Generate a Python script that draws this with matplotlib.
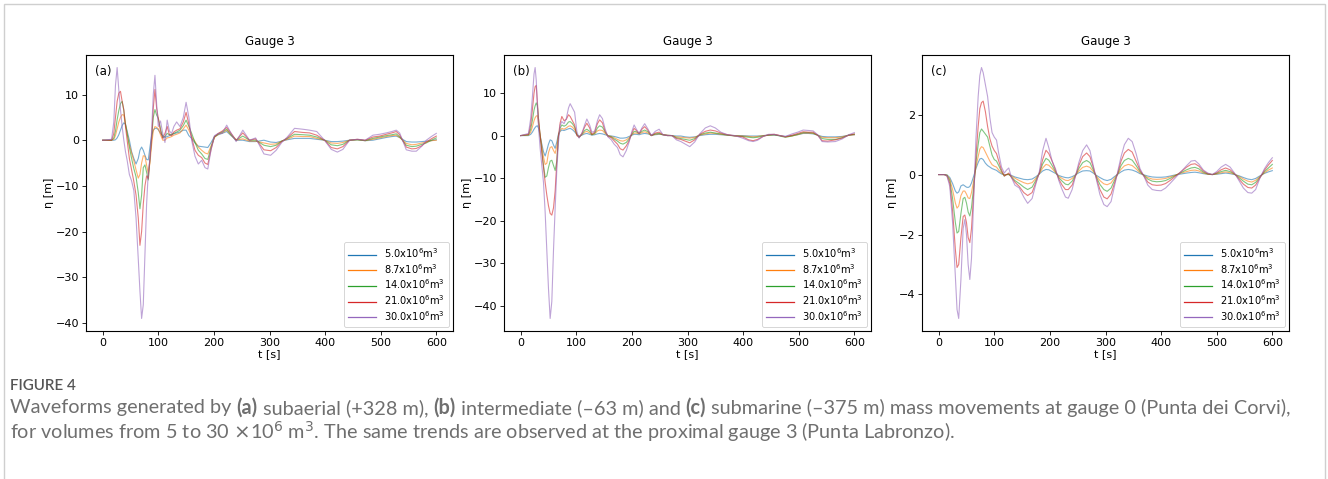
import numpy as np
import matplotlib
matplotlib.use('Agg')
import matplotlib.pyplot as plt
from matplotlib.patches import Rectangle

# volumes (x10^6 m3)
volumes = ['5.0', '8.7', '14.0', '21.0', '30.0']
cores = ['#1f77b4', '#ff7f0e', '#2ca02c', '#d62728', '#9467bd']

# ---------------- painel (a) subaerial ----------------
t_a = [0, 16, 20, 23, 26, 29, 32, 35, 38, 41,
       44, 48, 52, 56, 60, 64, 67, 70, 73, 76,
       79, 82, 85, 88, 91, 94, 97, 100, 104, 108,
       112, 116, 120, 124, 128, 133, 139, 145, 150, 155,
       160, 166, 172, 178, 184, 189, 195, 201, 208, 215,
       223, 231, 240, 252, 264, 275, 290, 302, 312, 322,
       332, 345, 360, 372, 385, 399, 411, 422, 432, 444,
       458, 472, 486, 498, 510, 520, 528, 534, 546, 556,
       564, 574, 582, 591, 600]

a_5 = [0, 0, 0, 0.1, 0.5, 1.2, 2.2, 3.2, 3.8, 3.5,
       2, 0, -2.5, -4, -5.2, -4, -2.2, -1.5, -2.2, -3.3,
       -4.2, -4.3, -1.5, 1, 2.2, 2.6, 2.6, 2.3, 1.5, 1,
       0.6, 0.8, 1, 1.2, 1.4, 1.6, 1.8, 2.2, 2.2, 1,
       0.4, -0.6, -1.3, -1.4, -1.5, -1.6, -0.5, 0.8, 1.2, 1.5,
       1.9, 1, 0, 0, -0.3, -0.3, 0, -0.4, -0.5, -0.2,
       0.1, 0.4, 0.4, 0.4, 0.2, 0, -0.3, -0.3, -0.2, 0,
       0.1, -0.1, 0, 0.3, 0.6, 0.8, 0.9, 0.6, -0.3, -0.4,
       -0.4, -0.3, -0.2, -0.1, 0.1]
a_87 = [0, 0, 0.2, 1, 2.5, 4, 5, 5.6, 5.5, 3.5,
        1.5, -1, -2.8, -4.5, -6.5, -8.3, -7.5, -5, -3.4, -3.5,
        -5.5, -7.3, -5, -1, 2, 3, 2.8, 2.5, 1.2, 0,
        0, 0.5, 0.6, 0.8, 1.1, 1.3, 1.6, 2.5, 3.3, 2.2,
        0.8, -0.3, -1.5, -2.2, -2.8, -3, -1.2, 0.6, 1.3, 1.6,
        2.2, 1.1, 0, 0.3, -0.2, -0.2, -0.6, -0.9, -0.8, -0.2,
        0.2, 0.9, 0.8, 0.8, 0.4, 0, -0.6, -0.7, -0.5, 0,
        0.1, -0.1, 0.2, 0.5, 0.8, 1, 1.1, 0.6, -0.7, -1,
        -0.9, -0.6, -0.4, -0.1, 0]
a_14 = [0, 0, 0.5, 2, 4.5, 6.5, 8, 8.5, 6.5, 3.5,
        1.5, -1.5, -4, -6.2, -8, -11.5, -15, -12, -6, -5.4,
        -7, -8.7, -4, 0.5, 5, 6.7, 5.5, 4.8, 2.5, 0.6,
        0.8, 1.5, 1.2, 1.3, 1.5, 1.8, 2.2, 3.2, 4.4, 3,
        1.5, -0.5, -2.2, -3, -4, -4.2, -1.5, 0.7, 1.4, 1.8,
        2.4, 1.2, 0, 0.9, 0, 0, -1.1, -1.4, -1.1, -0.2,
        0.4, 1.3, 1.2, 1.1, 0.7, 0, -1, -1.2, -0.9, 0,
        0.1, -0.1, 0.4, 0.7, 1, 1.2, 1.4, 0.8, -1.1, -1.4,
        -1.3, -0.9, -0.6, 0, 0.5]
a_21 = [0, 0, 1.5, 5, 8.5, 10.3, 10.7, 8.5, 6.7, 3,
        0, -4, -6.5, -9, -12, -17, -23, -20, -14, -10,
        -7.8, -8.4, -4, 0.3, 7, 11.1, 7, 4.8, 2, 0.4,
        1.5, 3, 1.2, 1, 1.8, 2.2, 2.5, 4, 6.1, 3.5,
        0.5, -2.2, -3.3, -3.8, -5, -5.3, -2, 0.8, 1.5, 2,
        2.8, 1.5, 0, 1.6, 0, 0.3, -2.1, -2.3, -1.6, -0.3,
        0.5, 1.9, 1.7, 1.6, 1.1, 0, -1.6, -1.9, -1.4, 0,
        0.2, 0, 0.7, 0.9, 1.3, 1.6, 1.9, 1.2, -1.5, -1.9,
        -1.8, -1.2, -0.4, 0.3, 0.9]
a_30 = [0, 0.2, 4, 12, 15.9, 11, 6.7, 3, 0, -2.5,
        -4.4, -7.5, -8.9, -11, -17, -26, -33, -39, -36, -25,
        -14, -7, -4, 2, 10, 14.2, 8, 3, 4.2, 1.5,
        -0.5, 4.4, 2, 1.5, 3, 4, 3, 5, 8.3, 5,
        0, -3.5, -5.2, -4.4, -6, -6.3, -2, 1, 1.5, 1.5,
        3.3, 1.5, -0.3, 2.2, 0, 0.5, -3, -3.3, -2.2, -0.5,
        0.7, 2.6, 2.4, 2.2, 1.9, 0, -2, -2.6, -2, 0,
        0.2, 0, 1.1, 1.3, 1.6, 1.9, 2.2, 1.6, -2.1, -2.4,
        -2.4, -1.3, 0, 0.8, 1.5]

# ---------------- painel (b) intermediario ----------------
t_b = [0, 14, 18, 21, 24, 26, 28, 30, 32, 35,
       38, 41, 44, 47, 50, 53, 56, 59, 62, 65,
       68, 71, 74, 78, 82, 86, 89, 93, 97, 101,
       105, 110, 115, 119, 124, 128, 133, 138, 142, 147,
       152, 157, 163, 168, 174, 179, 184, 190, 195, 200,
       204, 208, 213, 218, 223, 229, 235, 242, 249, 256,
       264, 272, 280, 288, 296, 304, 313, 322, 332, 341,
       350, 360, 372, 385, 399, 410, 418, 426, 436, 446,
       456, 466, 476, 488, 498, 508, 518, 526, 534, 542,
       552, 566, 578, 590, 600]

b_5 = [0, 0, 0.3, 0.8, 1.5, 1.9, 2.2, 2.3, 1.8, 0,
       -2, -3.8, -4.8, -3.5, -2, -1, -1.2, -2.2, -3, -1.5,
       0.4, 1, 1.3, 1.2, 1.4, 1.6, 1.7, 1.4, 0.9, 0.2,
       -0.2, 0.1, 0.4, 0.5, 0.3, 0.1, 0.2, 0.4, 0.5, 0.4,
       0.2, 0, -0.1, -0.2, -0.4, -0.6, -0.6, -0.5, -0.2, 0.1,
       0.3, 0.3, 0.2, 0.4, 0.5, 0.4, 0.1, 0.2, 0.3, 0.2,
       0.1, 0, -0.1, -0.1, -0.3, -0.4, -0.3, 0, 0.2, 0.3,
       0.3, 0.2, 0.1, 0, 0, -0.1, -0.1, -0.1, 0, 0.1,
       0.1, 0, -0.2, 0, 0.2, 0.5, 0.5, 0.4, 0.1, -0.2,
       -0.3, -0.3, -0.2, 0.1, 0.2]
b_87 = [0, 0.1, 0.8, 2, 3.5, 4.2, 4.6, 4.7, 3, 0,
        -2.5, -5, -6.8, -6.5, -4, -2.8, -2.6, -3.5, -4.2, -2.5,
        0, 1.2, 1.7, 1.5, 1.8, 2.2, 2.3, 2, 1.4, 0.3,
        -0.3, 0.2, 0.8, 1, 0.6, 0.2, 0.4, 1.1, 1.3, 1.2,
        0.5, 0, -0.2, -0.5, -0.9, -1.2, -1.3, -1, -0.5, 0.2,
        0.6, 0.6, 0.4, 0.7, 0.9, 0.6, 0, 0.3, 0.4, 0.2,
        0.1, 0, -0.3, -0.4, -0.5, -0.6, -0.4, 0.1, 0.4, 0.6,
        0.5, 0.3, 0.1, 0, -0.1, -0.2, -0.3, -0.2, 0, 0.1,
        0.2, 0, -0.3, -0.1, 0.2, 0.6, 0.6, 0.5, 0.1, -0.4,
        -0.5, -0.5, -0.3, 0.1, 0.2]
b_14 = [0, 0.2, 1.5, 3.5, 6, 7, 7.7, 7, 4, 0,
        -3.5, -7, -9.8, -9.5, -7.5, -6, -5.8, -7, -8.2, -6,
        0, 1.8, 2.5, 2.2, 2.5, 3.2, 3.3, 2.8, 2, 0.3,
        -0.4, 0.3, 1.2, 1.5, 1, 0.2, 0.5, 1.8, 2.3, 2,
        0.8, -0.1, -0.3, -0.8, -1.3, -1.8, -2, -1.6, -0.8, 0.3,
        1, 0.9, 0.5, 1, 1.3, 0.9, 0, 0.4, 0.5, 0.2,
        0, 0, -0.5, -0.7, -0.9, -1.1, -0.7, 0.2, 0.6, 0.8,
        0.6, 0.4, 0.1, -0.1, -0.2, -0.4, -0.5, -0.4, -0.1, 0.1,
        0.2, -0.1, -0.4, -0.1, 0.3, 0.7, 0.7, 0.6, 0.1, -0.7,
        -0.9, -0.9, -0.5, 0.1, 0.3]
b_21 = [0, 0.3, 2.5, 6, 10, 11.5, 11.8, 8, 4, 0,
        -4, -7.5, -11, -14, -16.5, -18.3, -18.7, -17, -13, -6,
        0, 3, 4.5, 3.5, 3.8, 4.9, 4.5, 3.5, 2.5, 0,
        -0.4, 0.5, 2, 2.9, 1.8, 0.3, 0.8, 2.8, 3.7, 3,
        1, -0.2, -0.5, -1.2, -2, -3.1, -3.4, -2.4, -1.2, 0.6,
        1.7, 1.2, 0.5, 1.5, 2.1, 1.2, 0, 0.6, 0.8, 0.2,
        0, 0, -0.7, -0.9, -1.3, -1.7, -1, 0.3, 1, 1.3,
        1.1, 0.6, 0.2, -0.1, -0.3, -1, -1.2, -0.9, -0.2, 0.2,
        0.3, 0, -0.3, 0.1, 0.5, 0.9, 0.8, 0.8, 0.1, -1.2,
        -1.3, -1, -0.6, 0.1, 0.4]
b_30 = [0, 0.5, 4, 9, 14.5, 16, 13, 7, 2, -3,
        -7, -11, -18, -27, -36, -43, -39, -27, -17, -8,
        -1.5, 2.5, 3.3, 2.8, 4, 6.5, 7.5, 6.5, 5.5, 1,
        -0.6, 0.5, 2.5, 3.9, 2.5, 0.8, 1, 3.5, 4.9, 4,
        1.5, -0.3, -1, -2, -2.8, -4.5, -5, -3.5, -1.5, 1,
        2.5, 1.5, 0.5, 1.8, 2.8, 1.5, 0, 1, 1.5, 0.2,
        0, 0, -1, -1.4, -2, -2.6, -1.5, 0.4, 1.8, 2.3,
        1.8, 0.8, 0.2, 0, -0.6, -1.2, -1.4, -1.1, -0.2, 0.3,
        0.3, 0, -0.2, 0.4, 0.8, 1.3, 1.2, 1.1, 0.2, -1.4,
        -1.5, -1.4, -0.8, 0.2, 0.7]

# ---------------- painel (c) submarino ----------------
t_c = [0, 10, 15, 20, 25, 30, 33, 36, 40, 44,
       47, 50, 53, 56, 59, 63, 67, 71, 74, 77,
       80, 84, 88, 92, 96, 100, 104, 108, 113, 118,
       122, 126, 131, 137, 145, 153, 160, 168, 175, 181,
       187, 193, 198, 204, 210, 216, 222, 228, 233, 240,
       246, 252, 259, 266, 272, 278, 284, 290, 297, 303,
       310, 316, 322, 328, 334, 341, 348, 355, 362, 369,
       376, 384, 392, 400, 408, 416, 426, 436, 446, 454,
       461, 468, 476, 484, 492, 500, 508, 516, 524, 532,
       540, 548, 556, 563, 570, 578, 586, 593, 600]

c_5 = [0, 0, -0.01, -0.1, -0.3, -0.55, -0.62, -0.58, -0.38, -0.34,
       -0.38, -0.42, -0.43, -0.4, -0.28, -0.05, 0.2, 0.4, 0.52, 0.54,
       0.5, 0.38, 0.3, 0.25, 0.2, 0.17, 0.14, 0.08, 0.02, 0,
       0, 0, -0.03, -0.08, -0.12, -0.16, -0.17, -0.15, -0.07, 0.02,
       0.12, 0.17, 0.16, 0.1, 0.04, -0.03, -0.07, -0.1, -0.11, -0.07,
       -0.01, 0.06, 0.12, 0.13, 0.12, 0.05, -0.03, -0.1, -0.17, -0.2,
       -0.16, -0.07, 0.01, 0.09, 0.15, 0.17, 0.15, 0.1, 0.03, -0.01,
       -0.05, -0.08, -0.09, -0.09, -0.08, -0.05, -0.01, 0.02, 0.05, 0.07,
       0.08, 0.06, 0.03, 0.01, 0, 0.01, 0.03, 0.05, 0.03, 0,
       -0.04, -0.1, -0.15, -0.17, -0.13, -0.04, 0.04, 0.09, 0.13]
c_87 = [0, 0, -0.02, -0.15, -0.5, -0.95, -1.12, -1.05, -0.7, -0.55,
        -0.55, -0.65, -0.78, -0.8, -0.6, -0.2, 0.25, 0.6, 0.85, 0.93,
        0.9, 0.75, 0.6, 0.45, 0.33, 0.28, 0.25, 0.15, 0.05, -0.02,
        0, 0, -0.05, -0.12, -0.2, -0.27, -0.31, -0.27, -0.12, 0.03,
        0.22, 0.34, 0.31, 0.2, 0.07, -0.06, -0.13, -0.19, -0.2, -0.13,
        -0.02, 0.12, 0.24, 0.28, 0.24, 0.1, -0.06, -0.2, -0.31, -0.34,
        -0.28, -0.12, 0.02, 0.18, 0.29, 0.34, 0.3, 0.19, 0.06, -0.02,
        -0.1, -0.15, -0.16, -0.15, -0.13, -0.08, -0.02, 0.05, 0.1, 0.14,
        0.15, 0.12, 0.05, 0.01, 0, 0.02, 0.06, 0.09, 0.06, 0.01,
        -0.06, -0.15, -0.22, -0.25, -0.19, -0.06, 0.06, 0.15, 0.22]
c_14 = [0, 0, -0.03, -0.2, -0.8, -1.6, -1.95, -1.9, -1.3, -0.8,
        -0.76, -0.95, -1.25, -1.38, -1.1, -0.4, 0.4, 1, 1.4, 1.52,
        1.45, 1.35, 1.25, 0.95, 0.65, 0.5, 0.45, 0.3, 0.1, -0.05,
        0, 0.02, -0.08, -0.2, -0.3, -0.42, -0.5, -0.42, -0.18, 0.05,
        0.35, 0.54, 0.48, 0.3, 0.1, -0.1, -0.22, -0.32, -0.34, -0.22,
        -0.03, 0.2, 0.4, 0.47, 0.4, 0.16, -0.1, -0.33, -0.5, -0.56,
        -0.45, -0.2, 0.03, 0.3, 0.47, 0.54, 0.48, 0.3, 0.1, -0.03,
        -0.15, -0.22, -0.24, -0.23, -0.2, -0.13, -0.03, 0.07, 0.16, 0.22,
        0.24, 0.19, 0.08, 0.02, 0, 0.04, 0.1, 0.14, 0.1, 0.02,
        -0.1, -0.22, -0.32, -0.34, -0.26, -0.08, 0.1, 0.22, 0.34]
c_21 = [0, 0, -0.05, -0.3, -1.2, -2.5, -3.1, -3, -2.1, -1.4,
        -1.35, -1.6, -2.1, -2.27, -1.8, -0.6, 0.6, 1.6, 2.2, 2.4,
        2.45, 2.1, 1.6, 1.2, 0.95, 0.8, 0.7, 0.45, 0.15, -0.05,
        0, 0.05, -0.1, -0.25, -0.4, -0.6, -0.7, -0.6, -0.25, 0.05,
        0.5, 0.81, 0.7, 0.45, 0.15, -0.15, -0.35, -0.5, -0.5, -0.35,
        -0.05, 0.3, 0.6, 0.72, 0.6, 0.25, -0.15, -0.5, -0.75, -0.81,
        -0.65, -0.3, 0.05, 0.45, 0.72, 0.84, 0.75, 0.45, 0.15, -0.05,
        -0.25, -0.34, -0.36, -0.35, -0.3, -0.2, -0.05, 0.1, 0.25, 0.34,
        0.36, 0.28, 0.12, 0.03, 0, 0.06, 0.16, 0.22, 0.16, 0.03,
        -0.15, -0.32, -0.43, -0.45, -0.35, -0.1, 0.15, 0.32, 0.47]
c_30 = [0, 0, -0.05, -0.4, -1.6, -3.4, -4.5, -4.8, -3.5, -1.8,
        -1.5, -2, -3, -3.5, -2.8, -0.8, 1.2, 2.6, 3.3, 3.57,
        3.4, 3, 2.6, 1.9, 1.4, 1.25, 1.15, 0.7, 0.25, 0.05,
        0.15, 0.22, -0.1, -0.35, -0.45, -0.75, -0.96, -0.8, -0.3, 0.1,
        0.8, 1.21, 0.9, 0.45, 0.2, -0.2, -0.5, -0.75, -0.79, -0.5,
        -0.05, 0.4, 0.8, 0.99, 0.8, 0.3, -0.2, -0.67, -1, -1.07,
        -0.9, -0.4, 0.1, 0.6, 1, 1.21, 1.1, 0.7, 0.2, -0.05,
        -0.35, -0.5, -0.53, -0.54, -0.45, -0.3, -0.1, 0.1, 0.3, 0.45,
        0.47, 0.35, 0.15, 0.05, 0, 0.1, 0.25, 0.34, 0.25, 0.05,
        -0.2, -0.45, -0.6, -0.62, -0.5, -0.1, 0.2, 0.4, 0.56]

paineis = [
    ('(a)', t_a, [a_5, a_87, a_14, a_21, a_30]),
    ('(b)', t_b, [b_5, b_87, b_14, b_21, b_30]),
    ('(c)', t_c, [c_5, c_87, c_14, c_21, c_30]),
]

fig = plt.figure(figsize=(13.28, 4.79), dpi=100)
W, H = 1328.0, 479.0

# moldura da figura
fig.patches.append(Rectangle((4 / W, -0.1), 1321 / W, 1.1 - 4 / H, transform=fig.transFigure,
                             fill=False, edgecolor='#cfcfcf', linewidth=1.0))

lefts = [86, 504, 922]
for (letra, t, series), x0 in zip(paineis, lefts):
    ax = fig.add_axes([x0 / W, (H - 331) / H, 367 / W, 276 / H])
    for v, lab, cor in zip(series, volumes, cores):
        ax.plot(t, v, color=cor, lw=0.8, alpha=0.6, label=lab + r'x10$^6$m$^3$')
    ax.set_title('Gauge 3', fontsize=8.5, pad=7)
    ax.set_xlabel('t [s]', fontsize=8, labelpad=1)
    ax.set_ylabel('η [m]', fontsize=8, labelpad=1)
    ax.set_xticks([0, 100, 200, 300, 400, 500, 600])
    ax.tick_params(labelsize=8, length=3, width=0.6, pad=2)
    for s in ax.spines.values():
        s.set_linewidth(0.8)
    ax.text(0.025, 0.965, letra, transform=ax.transAxes, va='top', ha='left', fontsize=8.5)
    leg = ax.legend(loc='lower right', fontsize=7.1, borderaxespad=0.4, handlelength=2.8,
                    labelspacing=0.18, borderpad=0.45, framealpha=1, edgecolor='#d0d0d0', fancybox=True)
    leg.get_frame().set_linewidth(0.6)
    for h in leg.get_lines():
        h.set_alpha(1)
        h.set_linewidth(0.9)

# legenda (caption)
fonte = ['Lato', 'DejaVu Sans']
cor_txt = '#6f6f6f'
fig.text(10 / W, 1 - 386 / H, 'FIGURE 4', family=fonte, fontsize=11, color='#555555',
         va='center', ha='left', fontweight='semibold')

renderer = fig.canvas.get_renderer()


def linha(x_px, y_px, partes):
    x = x_px / W
    for txt, negrito in partes:
        tx = fig.text(x, 1 - y_px / H, txt, family=fonte, fontsize=14.3, color=cor_txt,
                      va='center', ha='left', fontweight='bold' if negrito else 'normal')
        bb = tx.get_window_extent(renderer=renderer)
        x += bb.width / W


linha(10, 408, [('Waveforms generated by ', False), ('(a)', True), (' subaerial (+328 m), ', False),
                ('(b)', True), (' intermediate (\u201363 m) and ', False), ('(c)', True),
                (' submarine (\u2013375 m) mass movements at gauge 0 (Punta dei Corvi),', False)])
linha(10, 432, [(r'for volumes from 5 to 30 $\times$10$^6$ m$^3$. The same trends are observed at the '
                 'proximal gauge 3 (Punta Labronzo).', False)])

fig.savefig('out.png', dpi=100)
